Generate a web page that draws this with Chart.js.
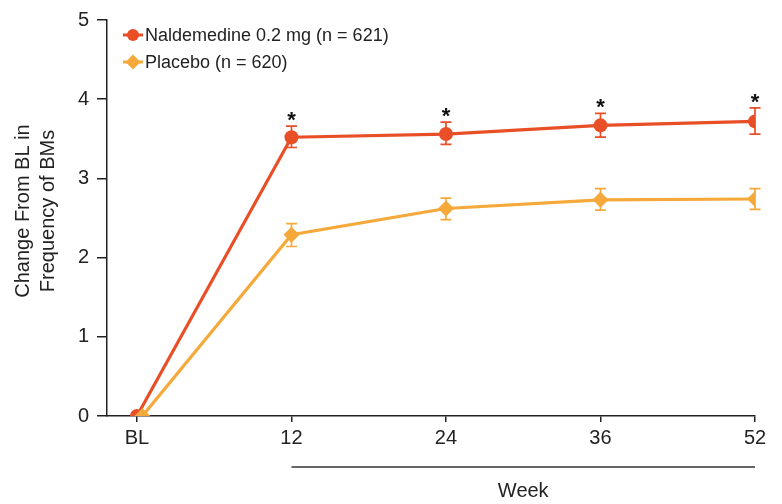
<!DOCTYPE html>
<html>
<head>
<meta charset="utf-8">
<script src="https://cdn.jsdelivr.net/npm/chart.js@4/dist/chart.umd.min.js"></script>
<style>
  html, body { margin: 0; padding: 0; background: #fff; }
  #wrap { width: 782px; height: 504px; position: relative; }
</style>
</head>
<body>
<div id="wrap"><canvas id="chart"></canvas></div>
<script>
// Visit labels along the x axis (BL = baseline)
const weekLabels = ['BL', '12', '24', '36', '52'];
// Position index of each visit on the x axis
const visitIndex = [0, 1, 2, 3, 4];
// Placebo baseline point sits just right of the active-arm point
const placeboIndex = [0.035, 1, 2, 3, 4];

// Naldemedine 0.2 mg: mean change and error-bar limits
const naldeMean = [0, 3.52, 3.56, 3.67, 3.72];
const naldeLow  = [0, 3.39, 3.43, 3.52, 3.56];
const naldeHigh = [0, 3.66, 3.71, 3.82, 3.89];

// Placebo: mean change and error-bar limits
const placeboMean = [0, 2.29, 2.62, 2.73, 2.74];
const placeboLow  = [0, 2.14, 2.48, 2.60, 2.61];
const placeboHigh = [0, 2.43, 2.75, 2.87, 2.87];

// Visits with a significant difference vs placebo
const significant = [false, true, true, true, true];

// Y-axis tick values
const yTicks = [0, 1, 2, 3, 4, 5];

const FONT = '"Liberation Sans", Arial, Helvetica, sans-serif';
const TEXT = '#222222';
const RED = '#E84F27';
const ORANGE = '#F5A93B';

function points(xs, ys) {
  return xs.map((x, i) => ({ x: x, y: ys[i] }));
}

// Error bars, significance stars, custom legend, y title and week bracket
const decorations = {
  id: 'decorations',
  beforeDatasetsDraw(chart) {
    const ctx = chart.ctx;
    const xs = chart.scales.x, ys = chart.scales.y;
    chart.data.datasets.forEach(ds => {
      ctx.save();
      ctx.strokeStyle = ds.borderColor;
      ctx.lineWidth = 1.7;
      ds.data.forEach((p, i) => {
        const lo = ds.errLow[i], hi = ds.errHigh[i];
        if (hi - lo <= 0) return;
        const px = xs.getPixelForValue(p.x);
        const yl = ys.getPixelForValue(lo), yh = ys.getPixelForValue(hi);
        ctx.beginPath();
        ctx.moveTo(px, yl); ctx.lineTo(px, yh);
        ctx.moveTo(px - 5.5, yl); ctx.lineTo(px + 5.5, yl);
        ctx.moveTo(px - 5.5, yh); ctx.lineTo(px + 5.5, yh);
        ctx.stroke();
      });
      ctx.restore();
    });
  },
  afterDatasetsDraw(chart) {
    const ctx = chart.ctx;
    const xs = chart.scales.x, ys = chart.scales.y;

    // significance stars above the active-arm error bars
    ctx.save();
    ctx.fillStyle = '#111';
    ctx.font = 'bold 22px ' + FONT;
    ctx.textAlign = 'center';
    ctx.textBaseline = 'alphabetic';
    visitIndex.forEach((v, i) => {
      if (!significant[i]) return;
      const px = xs.getPixelForValue(v);
      const py = ys.getPixelForValue(naldeHigh[i]) - 12;
      ctx.fillText('*', px, py + 13);
    });
    ctx.restore();

    // legend
    ctx.save();
    const legendX = 123, rows = [35, 62];
    chart.data.datasets.forEach((ds, k) => {
      const y = rows[k];
      ctx.strokeStyle = ds.borderColor;
      ctx.fillStyle = ds.borderColor;
      ctx.lineWidth = 3;
      ctx.beginPath();
      ctx.moveTo(legendX, y); ctx.lineTo(legendX + 20, y);
      ctx.stroke();
      ctx.beginPath();
      if (ds.pointStyle === 'rectRot') {
        const r = 7.5, cx = legendX + 10;
        ctx.moveTo(cx, y - r); ctx.lineTo(cx + r, y); ctx.lineTo(cx, y + r); ctx.lineTo(cx - r, y);
        ctx.closePath();
      } else {
        ctx.arc(legendX + 10, y, 6, 0, Math.PI * 2);
      }
      ctx.fill();
      ctx.fillStyle = TEXT;
      ctx.font = '18px ' + FONT;
      ctx.textAlign = 'left';
      ctx.textBaseline = 'middle';
      ctx.fillText(ds.label, legendX + 22, y + 1);
    });
    ctx.restore();

    // y-axis title (two lines, rotated)
    ctx.save();
    ctx.fillStyle = TEXT;
    ctx.font = '20px ' + FONT;
    ctx.textAlign = 'center';
    ctx.textBaseline = 'middle';
    ctx.translate(0, 211);
    ctx.rotate(-Math.PI / 2);
    ctx.fillText('Change From BL in', 0, 23);
    ctx.fillText('Frequency of BMs', 0, 48);
    ctx.restore();

    // bracket spanning the treatment weeks, with its label
    ctx.save();
    const x0 = xs.getPixelForValue(1), x1 = xs.getPixelForValue(4);
    ctx.strokeStyle = '#333';
    ctx.lineWidth = 1.5;
    ctx.beginPath();
    ctx.moveTo(x0, 467); ctx.lineTo(x1, 467);
    ctx.stroke();
    ctx.fillStyle = TEXT;
    ctx.font = '20px ' + FONT;
    ctx.textAlign = 'center';
    ctx.textBaseline = 'middle';
    ctx.fillText('Week', (x0 + x1) / 2, 491);
    ctx.restore();
  }
};

new Chart(document.getElementById('chart'), {
  type: 'line',
  data: {
    datasets: [
      {
        label: 'Naldemedine 0.2 mg (n = 621)',
        data: points(visitIndex, naldeMean),
        errLow: naldeLow,
        errHigh: naldeHigh,
        borderColor: RED,
        backgroundColor: RED,
        borderWidth: 3.2,
        pointStyle: 'circle',
        pointRadius: 7,
        pointBorderWidth: 0,
        tension: 0,
        order: 2
      },
      {
        label: 'Placebo (n = 620)',
        data: points(placeboIndex, placeboMean),
        errLow: placeboLow,
        errHigh: placeboHigh,
        borderColor: ORANGE,
        backgroundColor: ORANGE,
        borderWidth: 3.2,
        pointStyle: 'rectRot',
        pointRadius: 8,
        pointBorderWidth: 0,
        tension: 0,
        order: 1
      }
    ]
  },
  options: {
    responsive: true,
    maintainAspectRatio: false,
    animation: false,
    layout: { padding: { top: 17, right: 27, left: 0, bottom: 0 } },
    plugins: {
      legend: { display: false },
      tooltip: { enabled: false }
    },
    scales: {
      x: {
        type: 'linear',
        min: -0.194,
        max: 4,
        afterFit(scale) { scale.height = 88; },
        afterBuildTicks(scale) { scale.ticks = visitIndex.map(v => ({ value: v })); },
        border: { display: true, color: '#222', width: 1.5 },
        grid: { display: true, drawOnChartArea: false, drawTicks: true, tickLength: 6, color: '#222', lineWidth: 1.5 },
        ticks: {
          padding: 4,
          color: TEXT,
          font: { family: FONT, size: 20 },
          maxRotation: 0,
          autoSkip: false,
          callback: (v) => weekLabels[visitIndex.indexOf(v)] ?? ''
        }
      },
      y: {
        min: 0,
        max: 5,
        afterFit(scale) { scale.width = 107; },
        afterBuildTicks(scale) { scale.ticks = yTicks.map(v => ({ value: v })); },
        border: { display: true, color: '#222', width: 1.5 },
        grid: { display: true, drawOnChartArea: false, drawTicks: true, tickLength: 10, color: '#222', lineWidth: 1.5 },
        ticks: {
          padding: 8,
          color: TEXT,
          font: { family: FONT, size: 20 }
        }
      }
    }
  },
  plugins: [decorations]
});
</script>
</body>
</html>
